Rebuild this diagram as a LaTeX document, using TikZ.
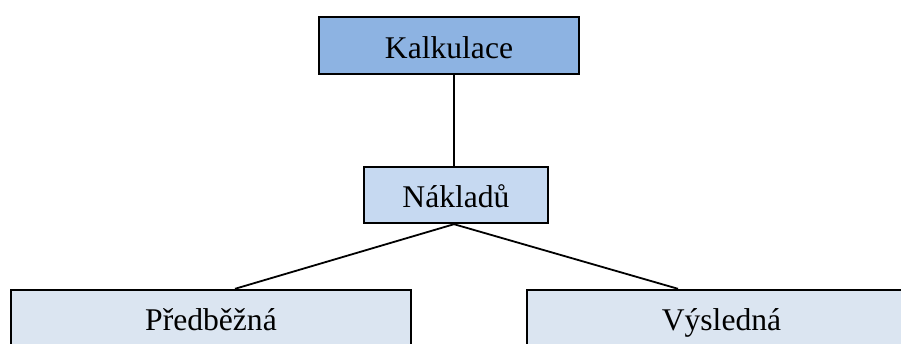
\documentclass[tikz,border=0pt]{standalone}
\usepackage{fontspec}
\setmainfont{Liberation Serif}
\usetikzlibrary{calc}
\definecolor{topfill}{HTML}{8DB3E2}
\definecolor{midfill}{HTML}{C6D9F1}
\definecolor{lowfill}{HTML}{DBE5F1}
\tikzset{
  box/.style={draw=black, line width=2.4pt, inner sep=0pt,
    font=\fontsize{31.6}{38}\selectfont, text height=26.9pt, text depth=1.3pt},
  link/.style={draw=black, line width=1.8pt}
}
\begin{document}
\begin{tikzpicture}[x=1pt, y=-1pt]
  \useasboundingbox (0,0) rectangle (901,343);
  \clip (0,0) rectangle (901,343);
  \node[box, fill=topfill, minimum width=260pt, minimum height=57pt] (kal) at (449,45.5) {Kalkulace};
  \node[box, fill=midfill, minimum width=184pt, minimum height=56pt] (nak) at (456,195) {Nákladů};
  \node[box, fill=lowfill, minimum width=400pt, minimum height=56pt] (pre) at (211,318) {Předběžná};
  \node[box, fill=lowfill, minimum width=389pt, minimum height=56pt] (vys) at (721.5,318) {Výsledná};
  \draw[link] ([xshift=5pt]kal.south) -- ([xshift=-2pt]nak.north);
  \draw[link] ([xshift=-2pt]nak.south) -- ([xshift=24pt]pre.north);
  \draw[link] ([xshift=-2pt]nak.south) -- ([xshift=-43.5pt]vys.north);
\end{tikzpicture}
\end{document}
